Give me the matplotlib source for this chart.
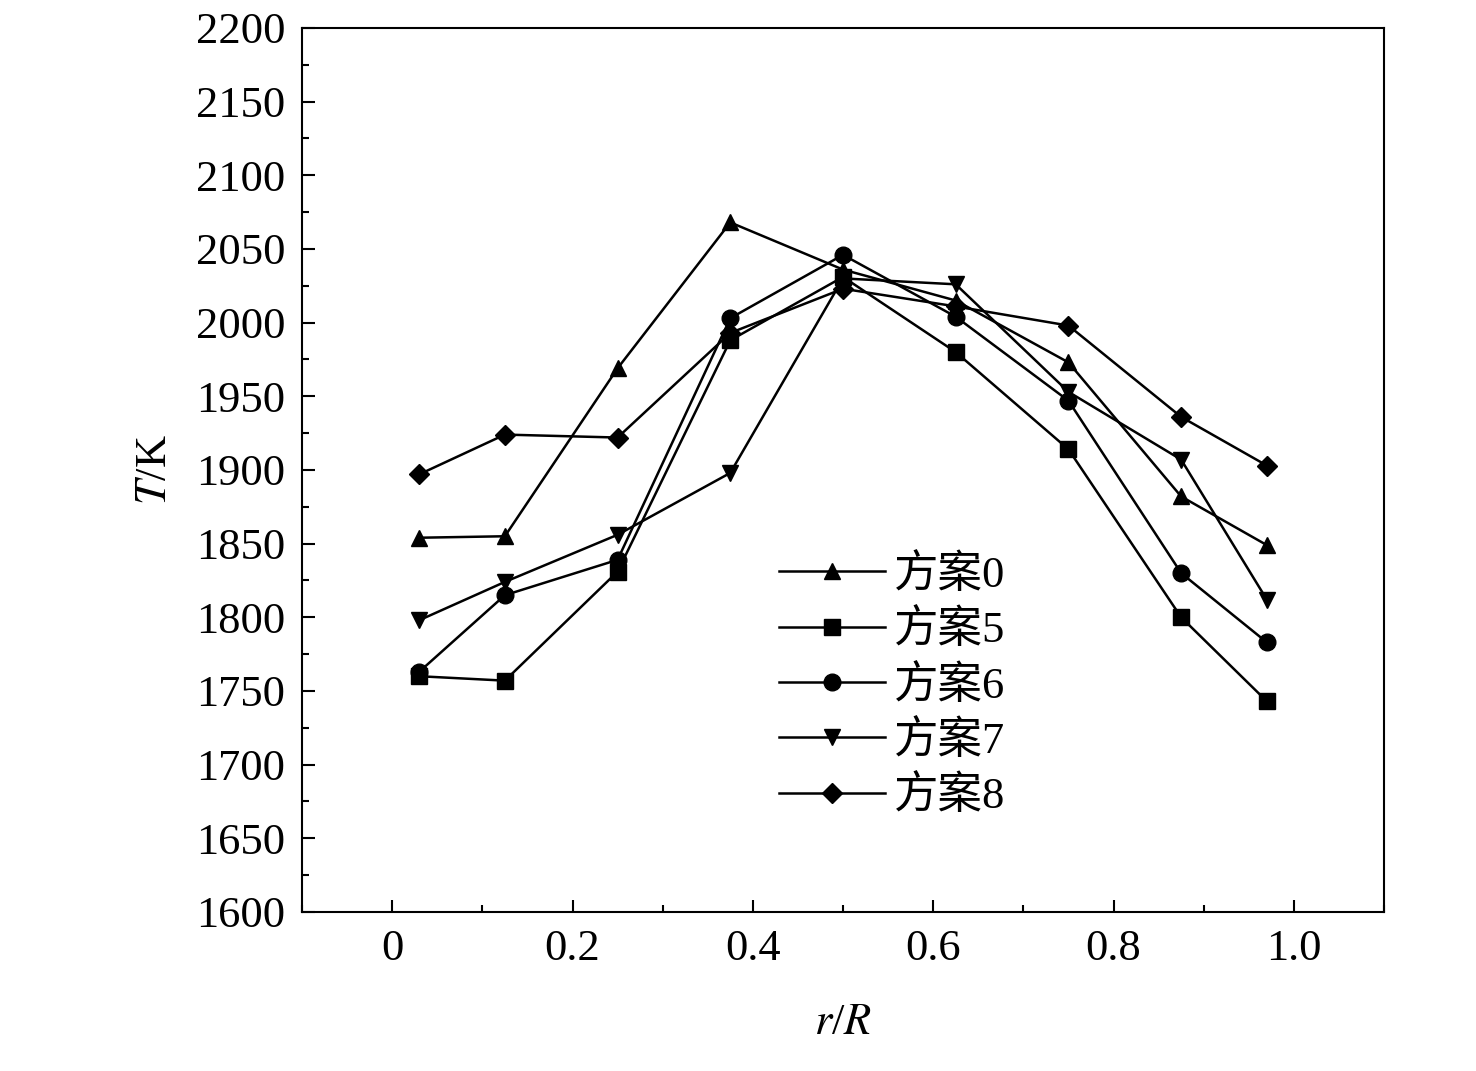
import numpy as np
import matplotlib.pyplot as plt
from matplotlib.ticker import MultipleLocator

plt.rcParams['font.family'] = ['Liberation Serif', 'Noto Sans CJK SC']
plt.rcParams['mathtext.fontset'] = 'stix'

x = [0.03, 0.125, 0.25, 0.375, 0.5, 0.625, 0.75, 0.875, 0.97]
s0 = [1854, 1855, 1969, 2068, 2036, 2015, 1973, 1882, 1849]
s5 = [1760, 1757, 1831, 1988, 2031, 1980, 1914, 1800, 1743]
s6 = [1763, 1815, 1839, 2003, 2046, 2004, 1947, 1830, 1783]
s7 = [1798, 1824, 1856, 1898, 2030, 2026, 1953, 1907, 1812]
s8 = [1897, 1924, 1922, 1993, 2023, 2011, 1998, 1936, 1903]
labels = ['方案0', '方案5', '方案6', '方案7', '方案8']
markers = ['^', 's', 'o', 'v', 'D']

fig = plt.figure(figsize=(14.76, 10.71), dpi=100)
ax = fig.add_axes([0.2046, 0.1485, 0.7331, 0.8254])
for ys, lab, m in zip([s0, s5, s6, s7, s8], labels, markers):
    ax.plot(x, ys, color='black', lw=1.8, marker=m,
            markersize=12 if m != 'D' else 10, label=lab)

ax.set_xlim(-0.1, 1.1)
ax.set_ylim(1600, 2200)
ax.set_xticks([0, 0.2, 0.4, 0.6, 0.8, 1.0])
ax.set_xticklabels(['0', '0.2', '0.4', '0.6', '0.8', '1.0'])
ax.xaxis.set_minor_locator(MultipleLocator(0.1))
ax.yaxis.set_major_locator(MultipleLocator(50))
ax.yaxis.set_minor_locator(MultipleLocator(25))
ax.tick_params(which='both', direction='in', labelsize=32, width=1.5)
ax.tick_params(which='major', length=9, pad=12)
ax.tick_params(which='minor', length=5)
for sp in ax.spines.values():
    sp.set_linewidth(1.5)
ax.set_xlabel('$r$/$R$', fontsize=32, labelpad=25)
ax.set_ylabel('$T$/K', fontsize=32, labelpad=15)

ax.legend(loc='upper left', bbox_to_anchor=(0.42, 0.43), frameon=False,
          fontsize=32, handlelength=2.4, labelspacing=0.3,
          handletextpad=0.2, borderpad=0)

fig.savefig('out.png', dpi=100)
